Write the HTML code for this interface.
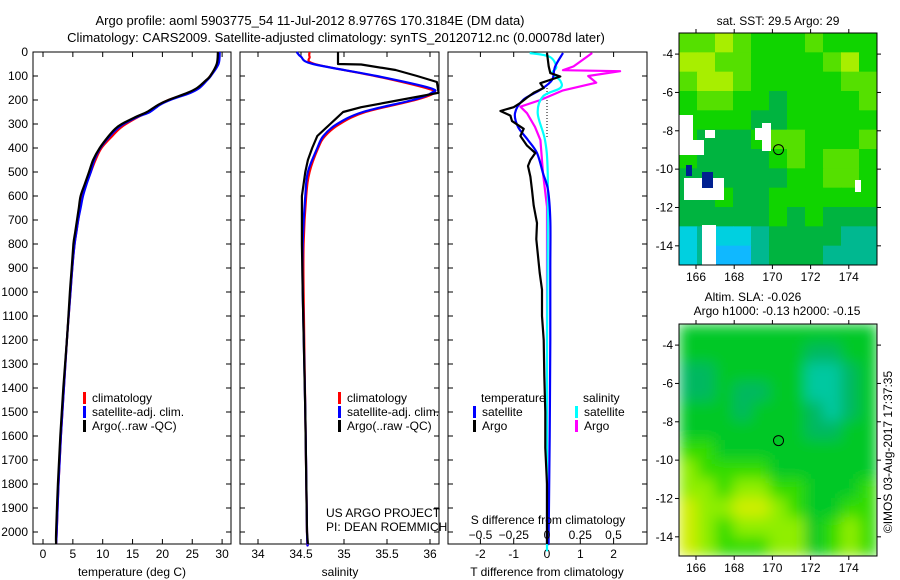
<!DOCTYPE html>
<html><head><meta charset="utf-8"><style>
body{margin:0;background:#fff;}
svg{display:block;font-family:"Liberation Sans",sans-serif;font-size:12px;}
</style></head><body>
<svg id="c" width="900" height="580" viewBox="0 0 900 580"></svg>
<script>
// ---------- data ----------
const tDepth=[0,50,100,120,150,170,200,220,250,270,300,320,350,400,450,500,550,600,650,700,750,800,900,1000,1200,1400,1600,1800,2000,2050];
const tClim=[29.5,29.3,28.0,27.3,26.0,24.5,21.0,19.4,17.6,16.0,13.9,12.8,11.6,9.8,8.8,8.0,7.2,6.6,6.2,5.9,5.6,5.3,4.9,4.6,4.0,3.5,3.0,2.6,2.3,2.2];
const tSat=[29.6,29.4,28.1,27.4,26.2,24.7,21.3,19.6,17.9,15.9,13.5,12.4,11.2,9.6,8.6,8.0,7.3,6.7,6.3,5.9,5.6,5.3,4.9,4.6,4.0,3.5,3.0,2.6,2.3,2.2];
const tArgo=[29.3,29.1,28.0,27.2,25.8,24.2,21.0,19.3,17.4,15.6,13.2,12.1,11.0,9.5,8.4,7.7,7.0,6.3,6.0,5.7,5.4,5.1,4.8,4.5,4.0,3.4,2.9,2.5,2.2,2.2];
const sDepth=[0,20,50,100,150,170,200,250,300,350,400,500,600,800,1000,1500,2000,2050];
const sClim=[34.6,34.6,34.66,35.36,35.95,36.05,35.83,35.25,34.95,34.78,34.7,34.6,34.56,34.53,34.53,34.55,34.57,34.58];
const sSat=[34.45,34.5,34.64,35.38,36.0,36.02,35.8,35.22,34.92,34.76,34.69,34.58,34.55,34.52,34.52,34.55,34.57,34.58];
const sArgoD=[0,50,52,75,100,125,170,200,230,250,280,300,350,400,450,500,600,700,800,1000,1500,2000,2050];
const sArgo=[34.93,34.93,35.2,35.6,35.85,36.08,36.1,35.65,35.2,34.99,34.9,34.84,34.69,34.63,34.58,34.55,34.51,34.51,34.51,34.52,34.55,34.57,34.58];
const dTDepth=[4,62,117,158,200,255,312,367,421,505,575,700,900,1200,1600,2000,2050];
const dTSat=[0.48,0.24,0.15,-0.2,-0.72,-0.96,-0.87,-0.57,-0.3,-0.12,0.03,0.1,0.1,0.1,0.08,0.05,0.05];
const dTArgoD=[4,60,88,102,130,150,170,190,212,230,246,265,288,320,350,390,421,450,475,520,575,640,713,780,850,920,990,1100,1200,1350,1500,1650,1800,2000,2050];
const dTArgo=[0,0.05,0.1,0.4,-0.2,-0.1,-0.4,-0.6,-0.8,-1.0,-1.4,-1.1,-1.05,-0.7,-0.8,-0.6,-0.35,-0.5,-0.57,-0.5,-0.45,-0.4,-0.3,-0.32,-0.27,-0.22,-0.15,-0.15,-0.1,-0.08,-0.05,-0.05,0,0,0];
const dSDepth=[4,20,62,88,120,150,185,255,367,500,800,1200,2000,2050];
const dSSat=[-0.13,0.02,0.07,0.04,0.1,0.1,-0.03,-0.07,-0.015,0.005,0.005,0.0,0.0,0.0];
const dSArgoD=[4,60,76,80,100,128,160,200,228,255,312,367,505,645,1000,2000,2050];
const dSArgo=[0.34,0.2,0.12,0.55,0.31,0.37,0.12,-0.05,-0.2,-0.15,-0.09,-0.05,-0.03,0,0,0,0];
const depthTicks=[0,100,200,300,400,500,600,700,800,900,1000,1100,1200,1300,1400,1500,1600,1700,1800,1900,2000];
const tTicks=[0,5,10,15,20,25,30];
const sTicks=[34,34.5,35,35.5,36];
const dTTicks=[-2,-1,0,1,2];
const dSTicks=[-0.5,-0.25,0,0.25,0.5];
const lonTicks=[166,168,170,172,174];
const latTicks=[-4,-6,-8,-10,-12,-14];
const floatLon=170.32, floatLat=-8.98;
const sstPal=['#10b8ff','#00d0e0','#00b890','#00b440','#10d400','#55e000','#a8ee00'];
const sstGrid=[
[5,5,6,5,4,4,4,5,4,4,4],
[6,6,5,5,4,4,4,4,5,6,4],
[5,6,6,5,4,4,4,4,4,5,5],
[4,5,5,4,4,3,4,4,4,4,5],
[4,4,4,4,3,3,4,4,4,4,4],
[4,3,3,3,4,5,5,4,4,4,5],
[4,3,3,3,3,4,5,4,5,5,4],
[3,3,3,3,3,3,4,4,5,5,4],
[3,3,4,3,3,4,4,4,4,4,4],
[3,3,3,3,3,4,3,4,3,3,3],
[1,2,1,1,2,3,3,3,3,2,2],
[1,2,0,0,2,3,3,3,2,2,2]];
const slaPal=['#00c8c0','#00c8a0','#00b860','#00c828','#30dc00','#90ee00','#d0ee00'];
const slaGrid=[
[3,3,3,3,3,3,3,3,3,3,3],
[3,3,3,3,3,3,3,2,2,3,3],
[2,2,3,3,3,3,3,1,1,2,3],
[2,2,3,2,2,3,3,1,1,2,3],
[3,3,3,2,3,3,3,2,1,2,3],
[3,3,3,3,3,3,3,2,2,3,3],
[4,4,3,3,3,3,3,3,3,3,3],
[5,4,4,4,4,3,3,3,3,3,3],
[5,5,4,5,5,4,4,3,3,3,4],
[6,5,5,6,6,5,4,3,3,4,4],
[6,5,4,5,5,5,5,3,4,5,4],
[6,5,4,4,4,5,5,3,4,5,4]];

// ---------- helpers ----------
const svg=document.getElementById('c');const NS='http://www.w3.org/2000/svg';
function mk(tag,at,parent){const e=document.createElementNS(NS,tag);for(const k in at)e.setAttribute(k,at[k]);(parent||svg).appendChild(e);return e;}
function txt(x,y,s,anchor,name,extra){const e=mk('text',Object.assign({x:x,y:y,'text-anchor':anchor||'start',fill:'#000'},extra||{}));e.textContent=s;


return e;}
const defs=mk('defs',{});
const flt=mk('filter',{id:'blur',x:'-10%',y:'-10%',width:'120%',height:'120%'},defs);
mk('feGaussianBlur',{stdDeviation:7,edgeMode:'duplicate'},flt);
const clip=mk('clipPath',{id:'slaclip'},defs);
mk('rect',{x:679,y:324,width:198,height:232},clip);

const TOP=52,BOT=544;
const yD=d=>TOP+d*0.24;
const xT=v=>43+v*5.97;
const xS=v=>258+(v-34)*86;
const xDT=v=>547+v*33.3;
const xDS=v=>547+v*133;

function frame(x0,x1,name){const r=mk('rect',{x:x0,y:TOP,width:x1-x0,height:BOT-TOP,fill:'#fff',stroke:'#000','stroke-width':1});


depthTicks.forEach(d=>{mk('line',{x1:x0,x2:x0+5,y1:yD(d),y2:yD(d),stroke:'#000'});mk('line',{x1:x1-5,x2:x1,y1:yD(d),y2:yD(d),stroke:'#000'});});}
function xticks(arr,f,labels,name){arr.forEach(v=>{const x=f(v);mk('line',{x1:x,x2:x,y1:BOT,y2:BOT-5,stroke:'#000'});mk('line',{x1:x,x2:x,y1:TOP,y2:TOP+5,stroke:'#000'});
if(labels)txt(x,558,String(v),'middle',name);});}
function smoothPath(pts){let d='M'+pts[0][0].toFixed(1)+','+pts[0][1].toFixed(1);
for(let i=0;i<pts.length-1;i++){const p0=pts[Math.max(i-1,0)],p1=pts[i],p2=pts[i+1],p3=pts[Math.min(i+2,pts.length-1)];
const c1=[p1[0]+(p2[0]-p0[0])/6,p1[1]+(p2[1]-p0[1])/6],c2=[p2[0]-(p3[0]-p1[0])/6,p2[1]-(p3[1]-p1[1])/6];
d+=' C'+c1.map(v=>v.toFixed(1))+' '+c2.map(v=>v.toFixed(1))+' '+p2[0].toFixed(1)+','+p2[1].toFixed(1);}return d;}
function line(ds,vs,f,col,name,smooth,w){const pts=ds.map((d,i)=>[f(vs[i]),yD(d)]);let e;
if(smooth)e=mk('path',{d:smoothPath(pts),fill:'none',stroke:col,'stroke-width':w||2.2});
else e=mk('polyline',{points:pts.map(p=>p[0].toFixed(1)+','+p[1].toFixed(1)).join(' '),fill:'none',stroke:col,'stroke-width':w||2.2,'stroke-linejoin':'round'});

}
function legend(x,y,col,label,name){mk('rect',{x:x,y:y-10,width:3,height:12,fill:col});txt(x+9,y,label,'start',name);}

// titles
txt(310,25,'Argo profile: aoml 5903775_54 11-Jul-2012 8.9776S 170.3184E (DM data)','middle','title-line-1',{'font-size':13});
txt(336,42,'Climatology: CARS2009. Satellite-adjusted climatology: synTS_20120712.nc (0.00078d later)','middle','title-line-2',{'font-size':13});

// panel 1
frame(33,231,'temperature-panel');
depthTicks.forEach(d=>txt(28,yD(d)+4,String(d),'end','depth-tick-label'));
xticks(tTicks,xT,true,'temperature-tick-label');
line(tDepth,tClim,xT,'#ff0000','temperature-climatology-line',true);
line(tDepth,tSat,xT,'#0000ff','temperature-satellite-line',true);
line(tDepth,tArgo,xT,'#000','temperature-argo-line',true);
legend(83,402,'#f00','climatology','legend-climatology');
legend(83,416,'#00f','satellite-adj. clim.','legend-satellite');
legend(83,430,'#000','Argo(..raw -QC)','legend-argo');
txt(132,576,'temperature (deg C)','middle','temperature-axis-title');

// panel 2
frame(240,439,'salinity-panel');
xticks(sTicks,xS,true,'salinity-tick-label');
line(sDepth,sClim,xS,'#ff0000','salinity-climatology-line',true);
line(sDepth,sSat,xS,'#0000ff','salinity-satellite-line',true);
line(sArgoD,sArgo,xS,'#000','salinity-argo-line',false);
legend(338,402,'#f00','climatology','legend-climatology-2');
legend(338,416,'#00f','satellite-adj. clim.','legend-satellite-2');
legend(338,430,'#000','Argo(..raw -QC)','legend-argo-2');
txt(326,517,'US ARGO PROJECT','start','project-label');
txt(326,531,'PI: DEAN ROEMMICH','start','pi-label');
txt(340,576,'salinity','middle','salinity-axis-title');

// panel 3
frame(448,647,'difference-panel');
xticks(dTTicks,xDT,true,'t-diff-tick-label');
mk('line',{x1:547,x2:547,y1:yD(150),y2:yD(360),stroke:'#000','stroke-dasharray':'1,2'});
line(dSArgoD,dSArgo,xDS,'#ff00ff','s-diff-argo-line',false);
line(dSDepth,dSSat,xDS,'#00ffff','s-diff-satellite-line',true);
line(dTDepth,dTSat,xDT,'#0000ff','t-diff-satellite-line',true);
line(dTArgoD,dTArgo,xDT,'#000','t-diff-argo-line',false);
txt(481,402,'temperature','start','legend-temperature-header');
legend(473,416,'#00f','satellite','legend-t-satellite');
legend(473,430,'#000','Argo','legend-t-argo');
txt(583,402,'salinity','start','legend-salinity-header');
legend(575,416,'#0ff','satellite','legend-s-satellite');
legend(575,430,'#f0f','Argo','legend-s-argo');
txt(548,524,'S difference from climatology','middle','s-diff-axis-title');
dSTicks.forEach(v=>txt(xDS(v),539,String(v).replace('-','−'),'middle','s-diff-tick-label'));
txt(547,576,'T difference from climatology','middle','t-diff-axis-title');

// maps
function map(y0,y1,grid,pal,name,blur,extra){
 const x0=679,x1=877;
 const outer=mk('g',blur?{'clip-path':'url(#slaclip)'}:{});
 const g=mk('g',blur?{filter:'url(#blur)'}:{},outer);
 
 
 const cw=(x1-x0)/grid[0].length,ch=(y1-y0)/grid.length;
 grid.forEach((row,r)=>row.forEach((v,c)=>mk('rect',{x:x0+c*cw,y:y0+r*ch,width:cw+0.5,height:ch+0.5,fill:pal[v]},g)));
 if(extra)extra();
 const lx=l=>696+(l-166)*19.1; const ly=l=>y0+(y1-y0)*( ( -2.9 - l)/12.1 );
 mk('rect',{x:x0,y:y0,width:x1-x0,height:y1-y0,fill:'none',stroke:'#000'});
 lonTicks.forEach(l=>{mk('line',{x1:lx(l),x2:lx(l),y1:y0,y2:y0-4,stroke:'#000'});mk('line',{x1:lx(l),x2:lx(l),y1:y1,y2:y1+4,stroke:'#000'});txt(lx(l),y1+16,String(l),'middle','longitude-tick-label');});
 latTicks.forEach(l=>{mk('line',{x1:x0,x2:x0-4,y1:ly(l),y2:ly(l),stroke:'#000'});mk('line',{x1:x1,x2:x1+4,y1:ly(l),y2:ly(l),stroke:'#000'});txt(673,ly(l)+4,String(l),'end','latitude-tick-label');});
 const c=mk('circle',{cx:lx(floatLon),cy:ly(floatLat),r:5,fill:'none',stroke:'#000','stroke-width':1});
 
 
}
map(33,265,sstGrid,sstPal,'sst-map',false,()=>{
 [[679,115,14,35],[679,140,25,15],[705,130,10,8],[684,178,40,22],[702,225,14,40],[762,123,9,28],[755,128,8,12],[855,180,6,12]].forEach(r=>mk('rect',{x:r[0],y:r[1],width:r[2],height:r[3],fill:'#fff'}));
 mk('rect',{x:686,y:165,width:6,height:11,fill:'#002090'});
 mk('rect',{x:702,y:172,width:11,height:16,fill:'#002090'});
});
map(324,556,slaGrid,slaPal,'sla-map',true);
txt(778,25,'sat. SST: 29.5 Argo: 29','middle','sst-map-title');
txt(753,301,'Altim. SLA: -0.026','middle','sla-map-title-1');
txt(777,315,'Argo h1000: -0.13 h2000: -0.15','middle','sla-map-title-2');
txt(0,0,'©IMOS 03-Aug-2017 17:37:35','middle','timestamp-label',{transform:'translate(892,452) rotate(-90)'});
</script>
</body></html>
